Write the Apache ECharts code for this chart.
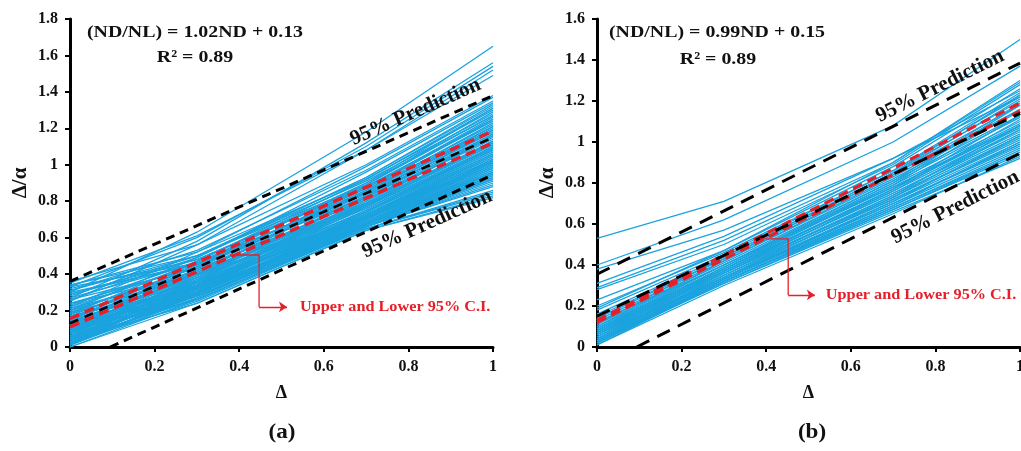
<!DOCTYPE html>
<html>
<head>
<meta charset="utf-8">
<script src="https://cdn.jsdelivr.net/npm/echarts@6/dist/echarts.min.js"></script>
<style>
  html, body { margin: 0; padding: 0; background: #fff; }
  #chart { width: 1021px; height: 451px; }
</style>
</head>
<body>
<div id="chart"></div>
<script>
// Δ positions at which every specimen curve is sampled
const xNodes = [0, 0.3, 0.7, 1];

// Panel (a): Δ/α of each specimen curve at the xNodes
const curvesA = [
  [0.30, 0.63, 1.18, 1.65], [0.27, 0.58, 1.12, 1.56], [0.33, 0.60, 1.10, 1.54],
  [0.25, 0.56, 1.08, 1.52], [0.35, 0.61, 1.08, 1.49], [0.36, 0.56, 1.00, 1.38],
  [0.22, 0.52, 0.99, 1.37], [0.31, 0.53, 0.97, 1.35], [0.20, 0.49, 0.96, 1.34],
  [0.34, 0.50, 0.93, 1.32], [0.18, 0.47, 0.92, 1.30], [0.28, 0.50, 0.91, 1.28],
  [0.15, 0.45, 0.90, 1.27], [0.32, 0.48, 0.88, 1.25], [0.12, 0.43, 0.88, 1.24],
  [0.22, 0.45, 0.86, 1.22], [0.10, 0.41, 0.85, 1.21], [0.29, 0.46, 0.84, 1.20],
  [0.17, 0.44, 0.84, 1.19], [0.30, 0.45, 0.82, 1.17], [0.08, 0.38, 0.83, 1.18],
  [0.20, 0.42, 0.81, 1.16], [0.13, 0.40, 0.80, 1.15], [0.05, 0.36, 0.81, 1.14],
  [0.18, 0.40, 0.79, 1.13], [0.10, 0.37, 0.78, 1.12], [0.26, 0.43, 0.78, 1.11],
  [0.03, 0.34, 0.78, 1.11], [0.21, 0.40, 0.77, 1.10], [0.14, 0.38, 0.76, 1.09],
  [0.33, 0.46, 0.76, 1.08], [0.07, 0.34, 0.75, 1.08], [0.19, 0.38, 0.74, 1.07],
  [0.11, 0.35, 0.73, 1.06], [0.02, 0.32, 0.73, 1.05], [0.16, 0.36, 0.72, 1.04],
  [0.24, 0.40, 0.71, 1.03], [0.09, 0.33, 0.71, 1.03], [0.04, 0.31, 0.70, 1.02],
  [0.13, 0.34, 0.70, 1.01], [0.06, 0.31, 0.69, 1.00], [0.17, 0.35, 0.69, 0.99],
  [0.01, 0.29, 0.68, 0.98], [0.10, 0.32, 0.68, 0.97], [0.05, 0.30, 0.67, 0.96],
  [0.14, 0.32, 0.67, 0.95], [0.08, 0.30, 0.66, 0.94], [0.02, 0.28, 0.66, 0.93],
  [0.12, 0.30, 0.66, 0.92], [0.06, 0.28, 0.66, 0.91], [0.00, 0.26, 0.66, 0.90],
  [0.09, 0.28, 0.66, 0.89], [0.04, 0.26, 0.66, 0.88], [0.11, 0.28, 0.65, 0.86],
  [0.02, 0.25, 0.65, 0.85], [0.07, 0.26, 0.65, 0.84], [0.00, 0.24, 0.64, 0.83],
  [0.04, 0.24, 0.64, 0.82],
  [0.01, 0.30, 0.72, 1.05], [0.03, 0.31, 0.74, 1.10], [0.05, 0.33, 0.77, 1.13],
  [0.07, 0.35, 0.79, 1.16], [0.09, 0.36, 0.80, 1.17], [0.11, 0.38, 0.82, 1.19],
  [0.13, 0.39, 0.83, 1.21], [0.15, 0.41, 0.85, 1.23], [0.16, 0.42, 0.86, 1.25],
  [0.19, 0.44, 0.87, 1.26], [0.21, 0.46, 0.89, 1.29], [0.23, 0.47, 0.90, 1.31],
  [0.02, 0.29, 0.70, 1.00], [0.04, 0.30, 0.71, 1.01], [0.06, 0.32, 0.72, 1.03],
  [0.08, 0.33, 0.73, 1.04], [0.10, 0.34, 0.74, 1.06], [0.12, 0.36, 0.75, 1.07],
  [0.14, 0.37, 0.76, 1.08], [0.16, 0.38, 0.77, 1.09], [0.18, 0.39, 0.78, 1.11],
  [0.20, 0.41, 0.79, 1.12], [0.03, 0.28, 0.68, 0.96], [0.05, 0.29, 0.69, 0.97],
  [0.07, 0.30, 0.69, 0.98], [0.09, 0.31, 0.70, 0.99], [0.11, 0.32, 0.71, 1.00],
  [0.13, 0.33, 0.72, 1.01], [0.15, 0.34, 0.73, 1.02], [0.01, 0.27, 0.67, 0.94],
  [0.03, 0.27, 0.67, 0.92], [0.05, 0.28, 0.68, 0.93], [0.08, 0.29, 0.68, 0.95],
  [0.10, 0.30, 0.69, 0.96], [0.24, 0.44, 0.83, 1.18], [0.27, 0.46, 0.85, 1.21],
  [0.29, 0.48, 0.87, 1.24], [0.31, 0.50, 0.89, 1.27], [0.34, 0.52, 0.92, 1.31],
  [0.26, 0.49, 0.93, 1.33]
];

// Panel (b): Δ/α of each specimen curve at the xNodes
const curvesB = [
  [0.02, 0.31, 0.66, 0.92], [0.03, 0.31, 0.67, 0.94], [0.01, 0.32, 0.68, 0.95],
  [0.04, 0.32, 0.68, 0.96], [0.02, 0.33, 0.69, 0.97], [0.05, 0.33, 0.70, 0.98],
  [0.03, 0.34, 0.70, 0.99], [0.06, 0.34, 0.71, 1.00], [0.04, 0.35, 0.72, 1.01],
  [0.07, 0.35, 0.72, 1.02], [0.05, 0.36, 0.73, 1.03], [0.08, 0.36, 0.74, 1.04],
  [0.06, 0.37, 0.75, 1.05], [0.09, 0.37, 0.75, 1.06], [0.07, 0.38, 0.76, 1.07],
  [0.10, 0.38, 0.77, 1.08], [0.08, 0.39, 0.78, 1.09], [0.11, 0.40, 0.79, 1.10],
  [0.09, 0.40, 0.80, 1.12], [0.12, 0.41, 0.81, 1.13], [0.10, 0.42, 0.82, 1.15],
  [0.13, 0.42, 0.83, 1.16], [0.15, 0.43, 0.84, 1.18], [0.11, 0.44, 0.85, 1.20],
  [0.18, 0.45, 0.86, 1.22], [0.20, 0.46, 0.86, 1.24], [0.23, 0.47, 0.88, 1.26],
  [0.28, 0.50, 0.89, 1.28], [0.29, 0.52, 0.90, 1.30], [0.31, 0.54, 0.92, 1.25],
  [0.38, 0.57, 0.92, 1.22], [0.40, 0.62, 1.00, 1.37], [0.53, 0.71, 1.08, 1.50],
  [0.02, 0.32, 0.69, 1.00], [0.03, 0.33, 0.71, 1.03], [0.04, 0.34, 0.73, 1.06],
  [0.05, 0.35, 0.74, 1.08], [0.06, 0.36, 0.76, 1.11], [0.07, 0.37, 0.77, 1.13],
  [0.08, 0.38, 0.79, 1.16], [0.09, 0.39, 0.80, 1.18], [0.10, 0.40, 0.81, 1.19],
  [0.01, 0.30, 0.65, 0.93], [0.03, 0.32, 0.67, 0.95], [0.05, 0.34, 0.70, 0.99],
  [0.14, 0.43, 0.84, 1.21], [0.16, 0.44, 0.85, 1.23], [0.12, 0.40, 0.78, 1.08],
  [0.19, 0.47, 0.90, 1.29]
];

// Fitted line, 95% confidence band and 95% prediction band, as [Δ, Δ/α] end points
const fitA       = [[0, 0.13], [1, 1.15]];
const ciUpperA   = [[0, 0.155], [1, 1.185]];
const ciLowerA   = [[0, 0.11], [1, 1.12]];
const predUpperA = [[0, 0.36], [1, 1.38]];
const predLowerA = [[0.095, 0], [1, 0.945]];

const fitB       = [[0, 0.15], [1, 1.14]];
const ciUpperB   = [[0, 0.13], [1, 1.19]];
const ciLowerB   = [[0, 0.12], [1, 1.15]];
const predUpperB = [[0, 0.355], [1, 1.385]];
const predLowerB = [[0.094, 0], [1, 0.945]];

// Leader from the confidence band to its caption
const leaderA = [[0.378, 0.505], [0.447, 0.505], [0.447, 0.22]];
const leaderTipA = [0.513, 0.22];
const leaderB = [[0.385, 0.527], [0.452, 0.527], [0.452, 0.254]];
const leaderTipB = [0.515, 0.254];

const captionsA = { fit: '(ND/NL) = 1.02ND + 0.13', r2: 'R² = 0.89', tag: '(a)' };
const captionsB = { fit: '(ND/NL) = 0.99ND + 0.15', r2: 'R² = 0.89', tag: '(b)' };
const predText = '95% Prediction';
const ciText = 'Upper and Lower 95% C.I.';

const FONT = '"Liberation Serif", "Times New Roman", serif';
const BLUE = '#1aa3df';
const RED = '#e5202a';

const chart = echarts.init(document.getElementById('chart'), null, { renderer: 'canvas' });

function xAxisFor(gi) {
  return {
    type: 'value', gridIndex: gi, min: 0, max: 1, interval: 0.2,
    name: 'Δ', nameLocation: 'middle', nameGap: 37,
    nameTextStyle: { fontFamily: FONT, fontWeight: 'bold', fontSize: 18, color: '#111' },
    axisLine: { show: true, onZero: false, lineStyle: { color: '#000', width: 3 } },
    axisTick: { show: true, inside: false, length: 5, lineStyle: { color: '#000', width: 2 } },
    axisLabel: { margin: 12, fontFamily: FONT, fontWeight: 'bold', fontSize: 16, color: '#111' },
    splitLine: { show: false }
  };
}
function yAxisFor(gi, max) {
  return {
    type: 'value', gridIndex: gi, min: 0, max: max, interval: 0.2,
    name: 'Δ/α', nameLocation: 'middle', nameGap: 39, nameRotate: 90,
    nameTextStyle: { fontFamily: FONT, fontWeight: 'bold', fontSize: 21, color: '#111' },
    axisLine: { show: true, onZero: false, lineStyle: { color: '#000', width: 3 } },
    axisTick: { show: true, inside: false, length: 5, lineStyle: { color: '#000', width: 2 } },
    axisLabel: { margin: 12, fontFamily: FONT, fontWeight: 'bold', fontSize: 16, color: '#111' },
    splitLine: { show: false }
  };
}

function curveSeries(gi, curves) {
  return {
    type: 'lines', coordinateSystem: 'cartesian2d', xAxisIndex: gi, yAxisIndex: gi,
    polyline: true, silent: true, z: 2,
    lineStyle: { color: BLUE, width: 1.3, opacity: 1 },
    data: curves.map(c => ({ coords: xNodes.map((x, i) => [x, c[i]]) }))
  };
}
function dashSeries(gi, pts, color, width, dash, z) {
  return {
    type: 'line', xAxisIndex: gi, yAxisIndex: gi, data: pts, showSymbol: false,
    silent: true, z: z, clip: true,
    lineStyle: { color: color, width: width, type: dash }
  };
}
function leaderSeries(gi, pts, tip) {
  return [
    {
      type: 'lines', coordinateSystem: 'cartesian2d', xAxisIndex: gi, yAxisIndex: gi,
      polyline: true, silent: true, z: 6,
      lineStyle: { color: RED, width: 1.3, opacity: 1 },
      data: [{ coords: pts }]
    },
    {
      type: 'lines', coordinateSystem: 'cartesian2d', xAxisIndex: gi, yAxisIndex: gi,
      silent: true, z: 6, symbol: ['none', 'arrow'], symbolSize: 8,
      lineStyle: { color: RED, width: 1.3, opacity: 1, curveness: 0 },
      data: [{ coords: [pts[pts.length - 1], tip] }]
    }
  ];
}

const option = {
  animation: false,
  backgroundColor: '#fff',
  grid: [
    { left: 70, top: 19, width: 423, height: 328, containLabel: false, outerBoundsMode: 'none' },
    { left: 597, top: 19, width: 423, height: 328, containLabel: false, outerBoundsMode: 'none' }
  ],
  xAxis: [xAxisFor(0), xAxisFor(1)],
  yAxis: [yAxisFor(0, 1.8), yAxisFor(1, 1.6)],
  series: [
    curveSeries(0, curvesA),
    dashSeries(0, ciUpperA, RED, 3.5, [10, 6], 3),
    dashSeries(0, ciLowerA, RED, 3.5, [10, 6], 3),
    dashSeries(0, fitA, '#000', 2.6, [9, 7], 4),
    dashSeries(0, predUpperA, '#000', 3, [9, 6], 4),
    dashSeries(0, predLowerA, '#000', 3, [9, 6], 4),
    ...leaderSeries(0, leaderA, leaderTipA),

    curveSeries(1, curvesB),
    dashSeries(1, ciUpperB, RED, 3.2, [10, 6], 3),
    dashSeries(1, ciLowerB, RED, 3.2, [10, 6], 3),
    dashSeries(1, fitB, '#000', 3, [14, 8], 4),
    dashSeries(1, predUpperB, '#000', 3, [14, 9], 4),
    dashSeries(1, predLowerB, '#000', 3, [14, 9], 4),
    ...leaderSeries(1, leaderB, leaderTipB)
  ]
};
chart.setOption(option);

// Text placed along a band line: t is the Δ position, offset is the normal distance in px (negative = above)
function alongLine(gi, seg, t, offset, text) {
  const p0 = chart.convertToPixel({ gridIndex: gi }, seg[0]);
  const p1 = chart.convertToPixel({ gridIndex: gi }, seg[1]);
  const f = (t - seg[0][0]) / (seg[1][0] - seg[0][0]);
  const px = p0[0] + f * (p1[0] - p0[0]);
  const py = p0[1] + f * (p1[1] - p0[1]);
  const dx = p1[0] - p0[0], dy = p1[1] - p0[1];
  const len = Math.sqrt(dx * dx + dy * dy);
  const nx = dy / len, ny = -dx / len; // normal pointing up-left
  const rot = Math.atan2(-dy, dx);
  return {
    type: 'text', x: px - nx * offset, y: py - ny * offset, rotation: rot, z: 10, silent: true,
    style: { text: text, x: 0, y: 0, align: 'center', verticalAlign: 'middle',
             font: 'bold 21px ' + FONT, fill: '#111' }
  };
}
function plainText(x, y, text, size, color, scaleX, align) {
  return {
    type: 'text', x: x, y: y, scaleX: scaleX || 1, z: 10, silent: true,
    style: { text: text, x: 0, y: 0, align: align || 'center', verticalAlign: 'middle',
             font: 'bold ' + size + 'px ' + FONT, fill: color }
  };
}
function captionAt(gi, pt, dx, text) {
  const p = chart.convertToPixel({ gridIndex: gi }, pt);
  return plainText(p[0] + dx, p[1], text, 14, RED, 1.16, 'left');
}

chart.setOption({
  graphic: [
    plainText(195, 33, captionsA.fit, 17, '#111', 1.17),
    plainText(195, 58, captionsA.r2, 17, '#111', 1.17),
    plainText(282, 433, captionsA.tag, 21, '#111', 1.1),
    plainText(717, 33, captionsB.fit, 17, '#111', 1.17),
    plainText(718, 60, captionsB.r2, 17, '#111', 1.17),
    plainText(812, 433, captionsB.tag, 21, '#111', 1.1),
    alongLine(0, predUpperA, 0.832, -16, predText),
    alongLine(0, predLowerA, 0.827, 18, predText),
    alongLine(1, predUpperB, 0.827, -15, predText),
    alongLine(1, predLowerB, 0.827, 19, predText),
    captionAt(0, leaderTipA, 13, ciText),
    captionAt(1, leaderTipB, 11, ciText)
  ]
});
</script>
</body>
</html>
